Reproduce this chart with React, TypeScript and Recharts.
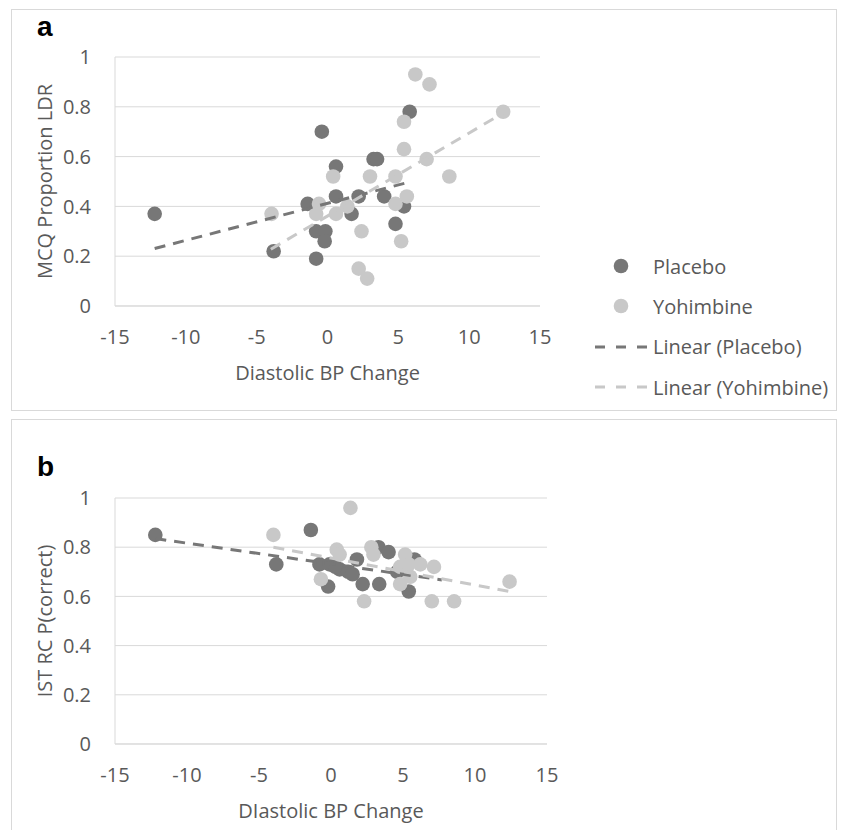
import React from 'react';
import { ScatterChart, Scatter, XAxis, YAxis, CartesianGrid, Legend } from 'recharts';

const FONT = '"Open Sans", "Noto Sans", sans-serif';
const TEXT = '#595959';
const GRID = '#D9D9D9';
const DARK = '#777777';
const LIGHT = '#C8C8C8';

// ---- Panel a: MCQ Proportion LDR vs Diastolic BP change ----
const placeboA = [
  { x: -12.2, y: 0.37 }, { x: -3.8, y: 0.22 }, { x: -1.4, y: 0.41 }, { x: -0.8, y: 0.19 },
  { x: -0.4, y: 0.70 }, { x: -0.8, y: 0.30 }, { x: -0.15, y: 0.30 }, { x: -0.2, y: 0.26 },
  { x: 0.6, y: 0.56 }, { x: 0.6, y: 0.44 }, { x: 1.7, y: 0.37 }, { x: 2.2, y: 0.44 },
  { x: 3.25, y: 0.59 }, { x: 3.5, y: 0.59 }, { x: 4.0, y: 0.44 }, { x: 4.8, y: 0.33 },
  { x: 5.4, y: 0.40 }, { x: 5.8, y: 0.78 },
];
const yohimbineA = [
  { x: -3.95, y: 0.37 }, { x: -0.6, y: 0.41 }, { x: -0.8, y: 0.37 }, { x: 0.4, y: 0.52 },
  { x: 0.6, y: 0.37 }, { x: 1.4, y: 0.40 }, { x: 2.4, y: 0.30 }, { x: 2.2, y: 0.15 },
  { x: 2.8, y: 0.11 }, { x: 3.0, y: 0.52 }, { x: 4.8, y: 0.52 }, { x: 4.8, y: 0.41 },
  { x: 5.6, y: 0.44 }, { x: 5.2, y: 0.26 }, { x: 5.4, y: 0.63 }, { x: 5.4, y: 0.74 },
  { x: 6.2, y: 0.93 }, { x: 7.2, y: 0.89 }, { x: 7.0, y: 0.59 }, { x: 8.6, y: 0.52 },
  { x: 12.4, y: 0.78 },
];
const trendPlaceboA = [{ x: -12.2, y: 0.231 }, { x: 5.85, y: 0.499 }];
const trendYohimbineA = [{ x: -4.0, y: 0.228 }, { x: 12.4, y: 0.775 }];

// ---- Panel b: IST RC P(correct) vs Diastolic BP change ----
const placeboB = [
  { x: -12.2, y: 0.85 }, { x: -3.8, y: 0.73 }, { x: -1.4, y: 0.87 }, { x: -0.2, y: 0.64 },
  { x: -0.8, y: 0.73 }, { x: -0.1, y: 0.73 }, { x: 0.6, y: 0.71 }, { x: 0.3, y: 0.72 },
  { x: 1.2, y: 0.70 }, { x: 1.8, y: 0.75 }, { x: 1.5, y: 0.69 }, { x: 2.2, y: 0.65 },
  { x: 3.35, y: 0.65 }, { x: 3.3, y: 0.80 }, { x: 4.0, y: 0.78 }, { x: 5.4, y: 0.62 },
  { x: 5.8, y: 0.75 }, { x: 4.6, y: 0.70 },
];
const yohimbineB = [
  { x: -4.0, y: 0.85 }, { x: 1.35, y: 0.96 }, { x: 0.4, y: 0.79 }, { x: 0.6, y: 0.77 },
  { x: -0.7, y: 0.67 }, { x: 2.8, y: 0.80 }, { x: 2.95, y: 0.77 }, { x: 2.3, y: 0.58 },
  { x: 5.15, y: 0.77 }, { x: 4.8, y: 0.72 }, { x: 4.8, y: 0.65 }, { x: 5.5, y: 0.68 },
  { x: 5.4, y: 0.73 }, { x: 6.2, y: 0.73 }, { x: 7.15, y: 0.72 }, { x: 7.0, y: 0.58 },
  { x: 8.55, y: 0.58 }, { x: 12.4, y: 0.66 },
];
const trendPlaceboB = [{ x: -12.2, y: 0.835 }, { x: 7.7, y: 0.667 }];
const trendYohimbineB = [{ x: -4.0, y: 0.80 }, { x: 12.4, y: 0.62 }];

// ---- Axes ----
const xTicks = [-15, -10, -5, 0, 5, 10, 15];
const yTicks = [0, 0.2, 0.4, 0.6, 0.8, 1];
const legendOrder = ['Placebo', 'Yohimbine', 'Linear (Placebo)', 'Linear (Yohimbine)'];

const tickStyle = { fill: TEXT, fontSize: 20, fontFamily: FONT };

const dot = (color: string) => (props: any) => (
  <circle cx={props.cx} cy={props.cy} r={7.3} fill={color} />
);
const noShape = () => <g />;

const yTitle = (text: string) => (props: any) => {
  const vb = props.viewBox;
  const cx = vb.x + 44;
  const cy = vb.y + vb.height / 2;
  return (
    <text x={cx} y={cy} transform={`rotate(-90, ${cx}, ${cy})`} textAnchor="middle"
      dominantBaseline="central" fill={TEXT} fontSize={20} fontFamily={FONT}>{text}</text>
  );
};
const xTitle = (text: string) => (props: any) => {
  const vb = props.viewBox;
  return (
    <text x={vb.x + vb.width / 2} y={vb.y + 66} textAnchor="middle" dominantBaseline="central"
      fill={TEXT} fontSize={20} fontFamily={FONT}>{text}</text>
  );
};

const renderLegend = (props: any) => {
  const payload = [...(props.payload || [])].sort(
    (a: any, b: any) => legendOrder.indexOf(a.value) - legendOrder.indexOf(b.value)
  );
  return (
    <div style={{ fontFamily: FONT, fontSize: 20, color: TEXT }}>
      {payload.map((entry: any, i: number) => {
        const isLine = String(entry.value).startsWith('Linear');
        return (
          <div key={i} style={{ display: 'flex', alignItems: 'center', height: 40.3, whiteSpace: 'nowrap' }}>
            <svg width={58} height={20} style={{ display: 'block' }}>
              {isLine ? (
                <line x1={0} y1={10} x2={52} y2={10} stroke={entry.color} strokeWidth={3} strokeDasharray="10 11" />
              ) : (
                <circle cx={26} cy={10} r={7.3} fill={entry.color} />
              )}
            </svg>
            <span>{entry.value}</span>
          </div>
        );
      })}
    </div>
  );
};

function Panel(props: {
  top: number; height: number; margin: any; yLabel: string; xLabel: string;
  placebo: any[]; yohimbine: any[]; trendP: any[]; trendY: any[]; legend: boolean;
}) {
  return (
    <div style={{ position: 'absolute', left: 0, top: props.top }}>
      <ScatterChart width={843} height={props.height} margin={props.margin}>
        <CartesianGrid vertical={false} stroke={GRID} strokeWidth={1} />
        <XAxis type="number" dataKey="x" domain={[-15, 15]} ticks={xTicks} interval={0}
          allowDataOverflow height={80} tickLine={false} tickMargin={18}
          axisLine={{ stroke: GRID, strokeWidth: 1 }} tick={tickStyle}
          label={{ content: xTitle(props.xLabel) } as any} />
        <YAxis type="number" dataKey="y" domain={[0, 1]} ticks={yTicks} interval={0}
          allowDataOverflow width={115} tickLine={false} tickMargin={18}
          axisLine={{ stroke: GRID, strokeWidth: 1 }} tick={tickStyle}
          label={{ content: yTitle(props.yLabel) } as any} />
        <Scatter name="Placebo" data={props.placebo} fill={DARK} shape={dot(DARK)} isAnimationActive={false} />
        <Scatter name="Yohimbine" data={props.yohimbine} fill={LIGHT} shape={dot(LIGHT)} isAnimationActive={false} />
        <Scatter name="Linear (Placebo)" data={props.trendP} fill={DARK} shape={noShape}
          line={{ stroke: DARK, strokeWidth: 3, strokeDasharray: '11 8' } as any} lineType="joint"
          isAnimationActive={false} />
        <Scatter name="Linear (Yohimbine)" data={props.trendY} fill={LIGHT} shape={noShape}
          line={{ stroke: LIGHT, strokeWidth: 3, strokeDasharray: '11 8' } as any} lineType="joint"
          isAnimationActive={false} />
        {props.legend ? (
          <Legend layout="vertical" align="center" verticalAlign="middle" content={renderLegend}
            wrapperStyle={{ left: 595, top: 246, width: 245 }} />
        ) : null}
      </ScatterChart>
    </div>
  );
}

export default function App() {
  return (
    <div style={{ position: 'absolute', left: 0, top: 0, width: 843, height: 830, background: '#fff', overflow: 'hidden' }}>
      <div style={{ position: 'absolute', left: 11, top: 9, width: 824, height: 400, border: `1px solid ${GRID}` }} />
      <div style={{ position: 'absolute', left: 11, top: 419, width: 824, height: 420, border: `1px solid ${GRID}` }} />
      <Panel top={0} height={410} margin={{ top: 57, right: 303, bottom: 24, left: 0 }}
        yLabel="MCQ Proportion LDR" xLabel="Diastolic BP Change"
        placebo={placeboA} yohimbine={yohimbineA} trendP={trendPlaceboA} trendY={trendYohimbineA} legend />
      <Panel top={415} height={415} margin={{ top: 83, right: 296, bottom: 6, left: 0 }}
        yLabel="IST RC P(correct)" xLabel="DIastolic BP Change"
        placebo={placeboB} yohimbine={yohimbineB} trendP={trendPlaceboB} trendY={trendYohimbineB} legend={false} />
      <div style={{ position: 'absolute', left: 37, top: 13, fontFamily: '"Liberation Sans", Arial, sans-serif', fontWeight: 'bold', fontSize: 28, lineHeight: '28px', color: '#000' }}>a</div>
      <div style={{ position: 'absolute', left: 37, top: 453, fontFamily: '"Liberation Sans", Arial, sans-serif', fontWeight: 'bold', fontSize: 28, lineHeight: '28px', color: '#000' }}>b</div>
    </div>
  );
}
